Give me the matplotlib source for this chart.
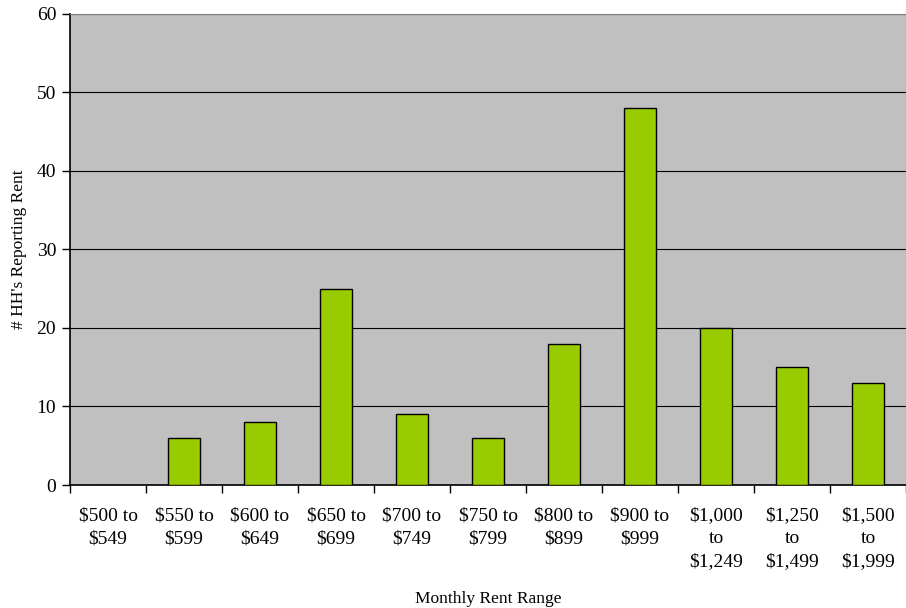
import matplotlib.pyplot as plt
import numpy as np

plt.rcParams['font.family'] = ['Liberation Serif', 'DejaVu Serif']

# rent ranges and household counts
categories = ["$500 to\n$549", "$550 to\n$599", "$600 to\n$649", "$650 to\n$699",
              "$700 to\n$749", "$750 to\n$799", "$800 to\n$899", "$900 to\n$999",
              "$1,000\nto\n$1,249", "$1,250\nto\n$1,499", "$1,500\nto\n$1,999"]
households = [0, 6, 8, 25, 9, 6, 18, 48, 20, 15, 13]

fig = plt.figure(figsize=(9.06, 6.08), dpi=100)
ax = fig.add_axes([0.0773, 0.2023, 0.9227, 0.7747])
ax.set_facecolor('#C0C0C0')

x = np.arange(len(categories))
ax.bar(x, households, width=0.41, color='#99CC00', edgecolor='black', linewidth=1, zorder=3)

ax.set_xlim(-0.5, len(categories) - 0.5)
ax.set_ylim(0, 60)
ax.set_yticks(range(0, 61, 10))
ax.yaxis.grid(True, color='black', linewidth=0.8, zorder=1)

# ticks sit on the boundaries between categories, labels at the centers
ax.set_xticks(np.arange(-0.5, len(categories), 1))
ax.set_xticklabels([])
ax.set_xticks(x, minor=True)
ax.set_xticklabels(categories, minor=True, fontsize=14, linespacing=1.46)
ax.tick_params(axis='x', which='minor', length=0, pad=16)
ax.tick_params(axis='x', which='major', length=6, width=1)
ax.tick_params(axis='y', length=6, width=1, labelsize=14, pad=4)

for side in ['top', 'right']:
    ax.spines[side].set_color('#808080')
for side in ['left', 'bottom']:
    ax.spines[side].set_color('black')
    ax.spines[side].set_linewidth(1.2)

ax.set_xlabel('Monthly Rent Range', fontsize=12.5, labelpad=15)
ax.set_ylabel("# HH's Reporting Rent", fontsize=12.5, labelpad=7)

fig.savefig('out.png', dpi=100)
